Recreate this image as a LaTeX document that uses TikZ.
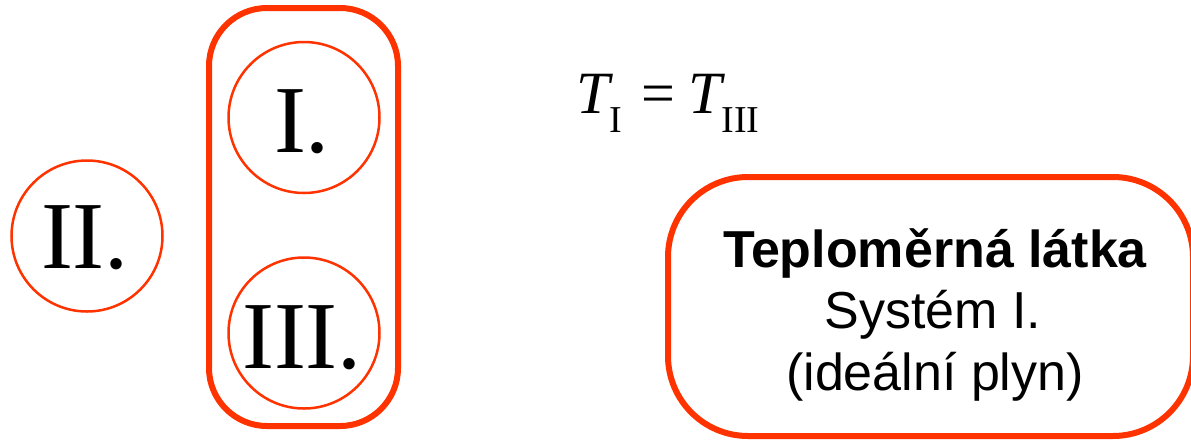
\documentclass[tikz,border=0pt]{standalone}
\usepackage{fontspec}
\setmainfont{Liberation Serif}
\newfontfamily\arialf{Liberation Sans}
\definecolor{rd}{RGB}{255,51,0}
\begin{document}
\begin{tikzpicture}[x=1pt,y=-1pt,
  sys/.style={draw=rd,line width=2.5pt,circle,minimum size=151pt,inner sep=0pt},
  roman/.style={anchor=base,inner sep=0pt,font=\fontsize{96}{96}\selectfont},
  frame/.style={draw=rd,line width=6pt},
  lbl/.style={anchor=base,inner sep=0pt,font=\arialf\fontsize{52}{52}\selectfont}]
\useasboundingbox (0,0) rectangle (1191,440);
\begin{scope}
\clip (0,0) rectangle (1191,440);
% circles
\node[sys] (c2) at (87,236) {};
\node[sys] (c1) at (304,117.5) {};
\node[sys] (c3) at (304,333) {};
\node[roman] (l2) at (85,268) {II.};
\node[roman] (l1) at (302,152) {I.};
\node[roman] (l3) at (302,368) {III.};
% enclosing frame
\draw[frame,rounded corners=58pt] (209,8) rectangle (398,426);
% equation
\node[anchor=base west,inner sep=0pt,font=\fontsize{60}{60}\selectfont] (eq) at (576,113)
  {\textit{T}\kern-4pt\raisebox{-19pt}{\fontsize{38}{38}\selectfont I}\kern20pt=\kern13pt\textit{T}\kern-4pt\raisebox{-19pt}{\fontsize{38}{38}\selectfont III}};
% right box
\draw[frame,rounded corners=80pt] (668,177) rectangle (1193,436);
\node[lbl,font=\arialf\bfseries\fontsize{52}{52}\selectfont] (t1) at (935,267) {Teploměrná látka};
\node[lbl] (t2) at (933,328) {Systém I.};
\node[lbl] (t3) at (935,390) {(ideální plyn)};
\end{scope}
\end{tikzpicture}
\end{document}
